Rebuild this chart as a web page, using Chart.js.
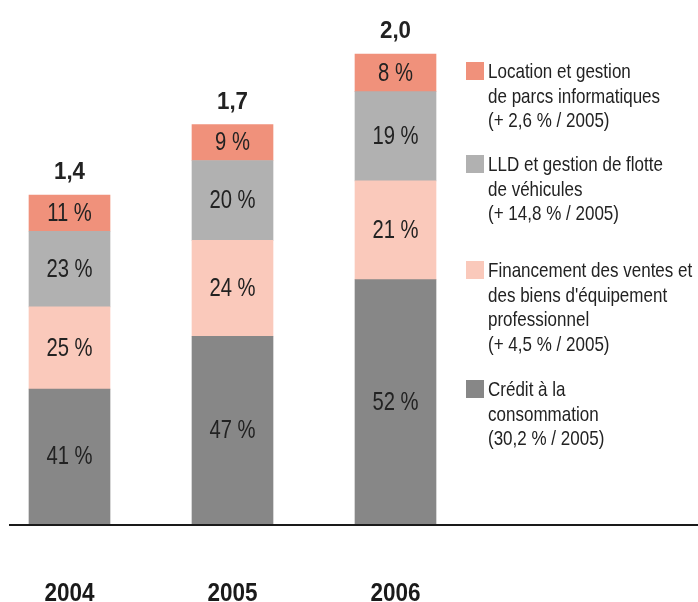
<!DOCTYPE html>
<html>
<head>
<meta charset="utf-8">
<script src="https://cdn.jsdelivr.net/npm/chart.js@4"></script>
<style>
  body { margin: 0; background: #fff; }
  #wrap { position: relative; width: 698px; height: 602px; }
  .leg { position: absolute; left: 466px; font-family: "Liberation Sans", Arial, sans-serif;
         font-size: 21px; line-height: 24.5px; color: #222; }
  .leg i { position: absolute; left: 0; top: 3px; width: 18px; height: 18px; }
  .leg span { display: block; margin-left: 22px; white-space: nowrap;
              transform: scaleX(0.81); transform-origin: 0 0; }
</style>
</head>
<body>
<div id="wrap">
  <canvas id="myChart" width="698" height="602"></canvas>
  <div id="legend"></div>
</div>
<script>
const years = ["2004", "2005", "2006"];
const totals = [1.4, 1.7, 2.0];
const totalLabels = ["1,4", "1,7", "2,0"];

// parts in % of each year's total, bottom to top
const credit = [41, 47, 52];
const financement = [25, 24, 21];
const lld = [23, 20, 19];
const location_ = [11, 9, 8];

const seriesNames = [
  ["Crédit à la", "consommation", "(30,2 % / 2005)"],
  ["Financement des ventes et", "des biens d'équipement", "professionnel", "(+ 4,5 % / 2005)"],
  ["LLD et gestion de flotte", "de véhicules", "(+ 14,8 % / 2005)"],
  ["Location et gestion", "de parcs informatiques", "(+ 2,6 % / 2005)"],
];
const colors = ["#878787", "#fac9bb", "#b1b1b1", "#f0917b"];
const legendTops = [377, 258, 152, 59]; // same order as series

const FONT = "'Liberation Sans', Arial, sans-serif";

function part(pcts) {
  return pcts.map((p, i) => (totals[i] * p) / 100);
}

const parts = [credit, financement, lld, location_];

// legend as html
let legend = document.getElementById("legend");
seriesNames.forEach((lines, k) => {
  legend.innerHTML += `<div class="leg" style="top:${legendTops[k]}px">
      <i style="background:${colors[k]}"></i>
      ${lines.map((l) => `<span>${l}</span>`).join("")}
    </div>`;
});

// text squeezed horizontally, the original uses a condensed face
function narrowText(ctx, text, x, y, sx) {
  ctx.save();
  ctx.translate(x, y);
  ctx.scale(sx, 1);
  ctx.fillText(text, 0, 0);
  ctx.restore();
}

const barLabels = {
  id: "barLabels",
  afterDatasetsDraw(chart) {
    const ctx = chart.ctx;
    const y0 = chart.scales.y.getPixelForValue(0);
    ctx.save();
    ctx.textAlign = "center";
    ctx.fillStyle = "#222";
    chart.data.datasets.forEach((ds, d) => {
      const meta = chart.getDatasetMeta(d);
      meta.data.forEach((bar, i) => {
        ctx.font = "25px " + FONT;
        ctx.textBaseline = "middle";
        narrowText(ctx, parts[d][i] + " %", bar.x, (bar.y + bar.base) / 2 + 1, 0.81);
        if (d === chart.data.datasets.length - 1) {
          ctx.font = "bold 23px " + FONT;
          ctx.textBaseline = "alphabetic";
          narrowText(ctx, totalLabels[i], bar.x, bar.y - 16, 0.97);
        }
      });
    });
    // years under the axis
    ctx.font = "bold 25px " + FONT;
    ctx.textBaseline = "alphabetic";
    ctx.fillStyle = "#1a1a1a";
    years.forEach((yr, i) => {
      narrowText(ctx, yr, chart.scales.x.getPixelForValue(i), y0 + 77, 0.9);
    });
    // base line
    ctx.fillRect(9, y0, 689, 2);
    ctx.restore();
  },
};

ctx = document.getElementById("myChart").getContext("2d");
myChart = new Chart(ctx, {
  type: "bar",
  data: {
    labels: years,
    datasets: parts.map((p, k) => ({
      label: seriesNames[k].join(" "),
      data: part(p),
      backgroundColor: colors[k],
      borderWidth: 0,
      barThickness: 81,
      clip: false,
    })),
  },
  options: {
    responsive: false,
    animation: false,
    layout: { padding: { left: 69.5, right: 302.5, top: 0, bottom: 78 } },
    plugins: { legend: { display: false }, tooltip: { enabled: false } },
    scales: {
      x: {
        stacked: true,
        offset: false,
        display: false,
      },
      y: {
        stacked: true,
        display: false,
        min: 0,
        max: 2.23,
      },
    },
  },
  plugins: [barLabels],
});
</script>
</body>
</html>
